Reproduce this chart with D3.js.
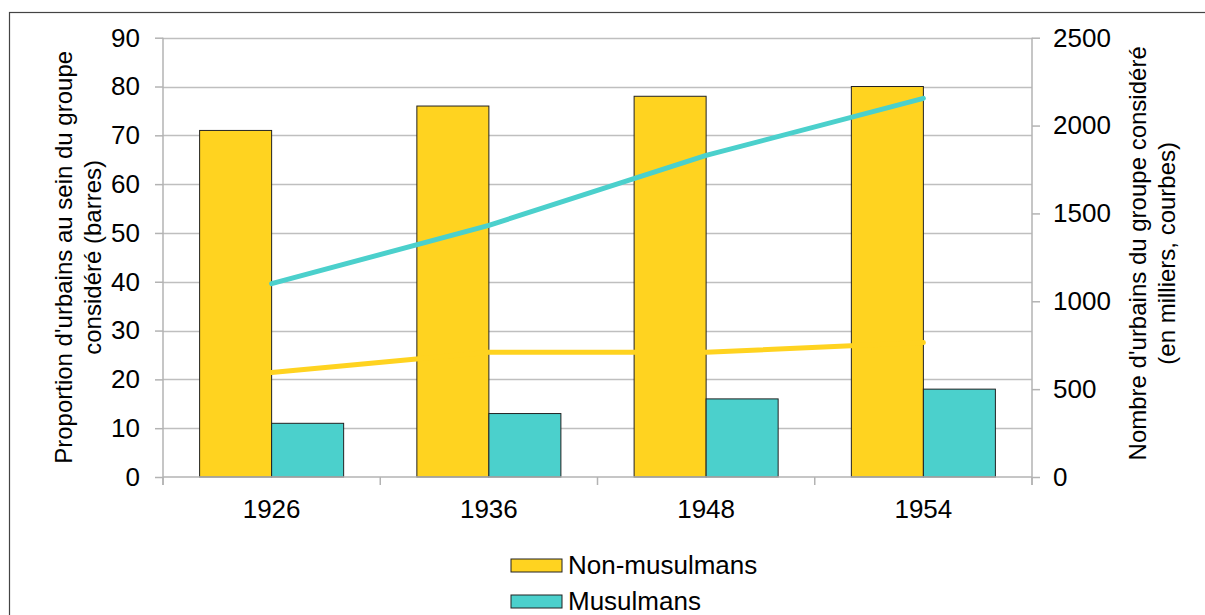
<!DOCTYPE html>
<html><head><meta charset="utf-8">
<script src="https://cdn.jsdelivr.net/npm/d3@7"></script>
<style>body{margin:0;background:#fff;} svg{display:block;font-family:"Liberation Sans",Arial,sans-serif;}</style>
</head><body>
<script>
const years = ["1926","1936","1948","1954"];
const seriesNames = ["Non-musulmans","Musulmans"];
const barNonMuslim = [71,76,78,80];
const barMuslim = [11,13,16,18];
const lineNonMuslim = [595,710,710,765];
const lineMuslim = [1100,1432,1830,2155];
const leftTicks = [0,10,20,30,40,50,60,70,80,90];
const rightTicks = [0,500,1000,1500,2000,2500];
const colors = {"Non-musulmans":"#FFD320","Musulmans":"#4BD0CC"};

const W=1205,H=615;
const L=163,R=1032,T=37.7,B=477;
const svg=d3.select("body").append("svg").attr("width",W).attr("height",H);

svg.append("rect").attr("x",9.5).attr("y",12.5).attr("width",W+20).attr("height",H+20)
  .attr("fill","#fff").attr("stroke","#444").attr("stroke-width",1.2);

const x=d3.scaleBand().domain(years).range([L,R]).paddingInner(0.337).paddingOuter(0.1685);
const xs=d3.scaleBand().domain(seriesNames).range([0,x.bandwidth()]);
const yL=d3.scaleLinear().domain([0,90]).range([B,T]);
const yR=d3.scaleLinear().domain([0,2500]).range([B,T]);

// gridlines
svg.append("g").selectAll("line").data(leftTicks.filter(d=>d>0)).join("line")
  .attr("x1",L).attr("x2",R).attr("y1",d=>Math.round(yL(d))+0.5).attr("y2",d=>Math.round(yL(d))+0.5)
  .attr("stroke","#bfbfbf").attr("stroke-width",1.3);

// bars
const barData=[];
years.forEach((yr,i)=>{
  barData.push({yr,s:"Non-musulmans",v:barNonMuslim[i]});
  barData.push({yr,s:"Musulmans",v:barMuslim[i]});
});
svg.append("g").selectAll("rect").data(barData).join("rect")
  .attr("x",d=>x(d.yr)+xs(d.s)).attr("width",xs.bandwidth())
  .attr("y",d=>yL(d.v)).attr("height",d=>B-yL(d.v))
  .attr("fill",d=>colors[d.s]).attr("stroke","#222").attr("stroke-width",1);

// axes
const axL=svg.append("g").attr("transform",`translate(${L},0)`)
  .call(d3.axisLeft(yL).tickValues(leftTicks).tickSize(8).tickPadding(15).tickFormat(d3.format("d")));
const axR=svg.append("g").attr("transform",`translate(${R},0)`)
  .call(d3.axisRight(yR).tickValues(rightTicks).tickSize(8).tickPadding(13).tickFormat(d3.format("d")));
const axB=svg.append("g").attr("transform",`translate(0,${B})`)
  .call(d3.axisBottom(x).tickSize(0).tickPadding(23));
[axL,axR,axB].forEach(a=>{
  a.select(".domain").attr("stroke","#b3b3b3").attr("stroke-width",1.5);
  a.selectAll(".tick line").attr("stroke","#b3b3b3").attr("stroke-width",1.5);
  a.selectAll("text").attr("font-size",26).attr("fill","#000").attr("font-family","Liberation Sans, Arial, sans-serif");
});
axL.select(".domain").attr("d",`M0,${T}V${B+8}`);
axR.select(".domain").attr("d",`M0,${T}V${B+8}`);
axB.select(".domain").attr("d",`M${L},0H${R}`);
// category boundary ticks
const bounds=[L].concat(years.map(y=>x(y)+x.bandwidth()+x.step()*x.paddingInner()/2));
bounds[bounds.length-1]=R;
axB.append("g").selectAll("line").data(bounds).join("line")
  .attr("x1",d=>d).attr("x2",d=>d).attr("y1",0).attr("y2",8)
  .attr("stroke","#b3b3b3").attr("stroke-width",1.5);

// lines
const lineGen=d3.line().x(d=>x(d.yr)+x.bandwidth()/2).y(d=>yR(d.v));
[[lineNonMuslim,"Non-musulmans"],[lineMuslim,"Musulmans"]].forEach(([arr,s])=>{
  svg.append("path").datum(years.map((yr,i)=>({yr,v:arr[i]})))
    .attr("d",lineGen).attr("fill","none").attr("stroke",colors[s])
    .attr("stroke-width",5).attr("stroke-linecap","round").attr("stroke-linejoin","round");
});

// axis titles
const lt=svg.append("text").attr("transform",`translate(72,${(T+B)/2}) rotate(-90)`)
  .attr("text-anchor","middle").attr("font-size",24).attr("fill","#000");
lt.append("tspan").attr("x",0).attr("y",0).text("Proportion d'urbains au sein du groupe");
lt.append("tspan").attr("x",0).attr("y",29).text("considéré (barres)");
const rt=svg.append("text").attr("transform",`translate(1146,${(T+B)/2-4}) rotate(-90)`)
  .attr("text-anchor","middle").attr("font-size",24).attr("fill","#000");
rt.append("tspan").attr("x",0).attr("y",0).text("Nombre d'urbains du groupe considéré");
rt.append("tspan").attr("x",0).attr("y",29).text("(en milliers, courbes)");

// legend
const lg=svg.append("g").selectAll("g").data(seriesNames).join("g")
  .attr("transform",(d,i)=>`translate(511,${559+i*36})`);
lg.append("rect").attr("width",51).attr("height",13).attr("fill",d=>colors[d]).attr("stroke","#222").attr("stroke-width",1);
lg.append("text").attr("x",57).attr("y",15).attr("font-size",26).attr("fill","#000").text(d=>d);
</script>
</body></html>
